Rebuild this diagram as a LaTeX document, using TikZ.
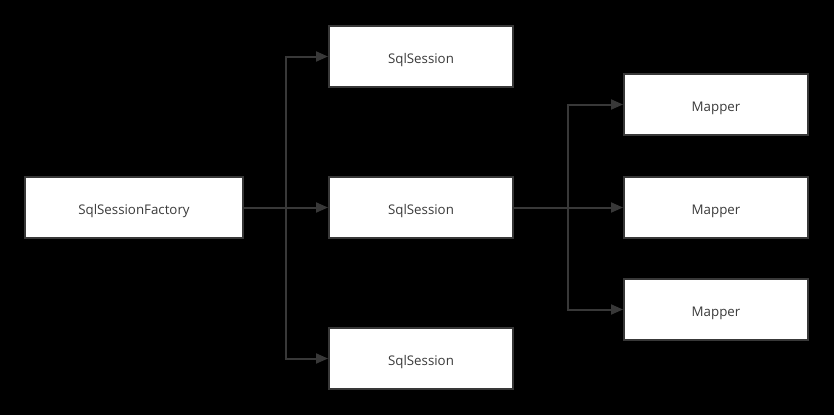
\documentclass[tikz,border=0pt]{standalone}
\usepackage{fontspec}
\setmainfont{Open Sans}
\usetikzlibrary{arrows.meta}
\definecolor{edge}{HTML}{383838}
\definecolor{txt}{HTML}{3A3A3A}
\tikzstyle{box} = [draw=edge, line width=2pt, fill=white, text=txt,
    minimum width=184pt, minimum height=61pt, inner sep=0pt,
    text height=13pt, text depth=0pt,
    font=\fontsize{13.3pt}{15pt}\selectfont]
\tikzstyle{link} = [draw=edge, line width=2pt,
    -{Triangle[length=12pt,width=10pt]}]

\begin{document}
\begin{tikzpicture}[x=1pt, y=-1pt]
    \fill[black] (0,0) rectangle (834,415);% background
    \useasboundingbox (0,0) rectangle (834,415);
    \node[box, minimum width=218pt] (factory) at (134,207.5) {SqlSessionFactory};% the factory
    \node[box] (sess1) at (421,56.5) {SqlSession};% sessions
    \node[box] (sess2) at (421,207.5) {SqlSession};
    \node[box] (sess3) at (421,358.5) {SqlSession};
    \node[box] (map1) at (716,104.5) {Mapper};% mappers
    \node[box] (map2) at (716,207.5) {Mapper};
    \node[box] (map3) at (716,309.5) {Mapper};
    % forks
    \coordinate (fork1) at (286,207.5);
    \coordinate (fork2) at (568,207.5);
    \draw[draw=edge, line width=2pt] (factory.east) -- (fork1);
    \draw[link] (fork1) |- (sess1.west);
    \draw[link] (fork1) -- (sess2.west);
    \draw[link] (fork1) |- (sess3.west);
    \draw[draw=edge, line width=2pt] (sess2.east) -- (fork2);
    \draw[link] (fork2) |- (map1.west);
    \draw[link] (fork2) -- (map2.west);
    \draw[link] (fork2) |- (map3.west);
\end{tikzpicture}
\end{document}
